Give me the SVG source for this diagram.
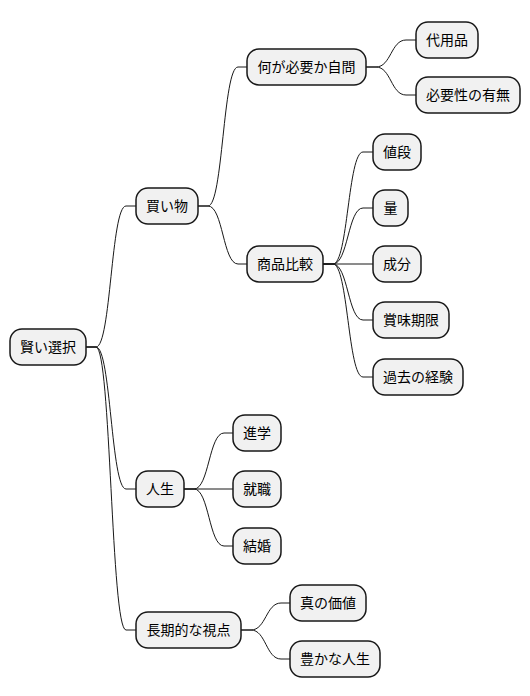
<svg xmlns="http://www.w3.org/2000/svg" width="530" height="696" viewBox="0 0 530 696">
<style>
.n rect{fill:#F1F1F1;stroke:#181818;stroke-width:1.5}
.n text{font-family:"Noto Sans CJK JP","Noto Sans",sans-serif;font-size:14px;fill:#000;text-anchor:middle}
.c path{fill:none;stroke:#181818;stroke-width:1}
</style>
<rect width="530" height="696" fill="#FFFFFF"/>
<g class="c">
<path d="M86 347 h10 C111 347 111 206 126 206 h10"/>
<path d="M86 347 h10 C111 347 111 489 126 489 h10"/>
<path d="M86 347 h10 C111 347 111 630 126 630 h10"/>
<path d="M198 206 h10 C223 206 223 67 238 67 h9"/>
<path d="M198 206 h10 C223 206 223 264 238 264 h9"/>
<path d="M366 67 h10 C391 67 391 40 406 40 h10"/>
<path d="M366 67 h10 C391 67 391 95 406 95 h10"/>
<path d="M323 264 h10 C348 264 348 152 363 152 h10"/>
<path d="M323 264 h10 C348 264 348 208 363 208 h10"/>
<path d="M323 264 h50"/>
<path d="M323 264 h10 C348 264 348 320 363 320 h10"/>
<path d="M323 264 h10 C348 264 348 377 363 377 h10"/>
<path d="M184 489 h10 C209 489 209 433 224 433 h9"/>
<path d="M184 489 h49"/>
<path d="M184 489 h10 C209 489 209 546 224 546 h9"/>
<path d="M241 630 h10 C266 630 266 603 281 603 h9"/>
<path d="M241 630 h10 C266 630 266 659 281 659 h9"/>
</g>
<g id="n-root" class="n"><rect x="10" y="329" width="76" height="36" rx="12"/><text x="48" y="352">賢い選択</text></g>
<g id="n-kaimono" class="n"><rect x="136" y="188" width="62" height="36" rx="12"/><text x="167" y="211">買い物</text></g>
<g id="n-jimon" class="n"><rect x="247" y="49" width="119" height="36" rx="12"/><text x="306.5" y="72">何が必要か自問</text></g>
<g id="n-daiyo" class="n"><rect x="416" y="22" width="62" height="36" rx="12"/><text x="447" y="45">代用品</text></g>
<g id="n-hitsuyo" class="n"><rect x="416" y="77" width="104" height="36" rx="12"/><text x="468" y="100">必要性の有無</text></g>
<g id="n-hikaku" class="n"><rect x="247" y="246" width="76" height="36" rx="12"/><text x="285" y="269">商品比較</text></g>
<g id="n-nedan" class="n"><rect x="373" y="134" width="48" height="36" rx="12"/><text x="397" y="157">値段</text></g>
<g id="n-ryo" class="n"><rect x="373" y="190" width="35" height="36" rx="12"/><text x="390.5" y="213">量</text></g>
<g id="n-seibun" class="n"><rect x="373" y="246" width="48" height="36" rx="12"/><text x="397" y="269">成分</text></g>
<g id="n-kigen" class="n"><rect x="373" y="302" width="76" height="36" rx="12"/><text x="411" y="325">賞味期限</text></g>
<g id="n-keiken" class="n"><rect x="373" y="359" width="90" height="36" rx="12"/><text x="418" y="382">過去の経験</text></g>
<g id="n-jinsei" class="n"><rect x="136" y="471" width="48" height="36" rx="12"/><text x="160" y="494">人生</text></g>
<g id="n-shingaku" class="n"><rect x="233" y="415" width="48" height="36" rx="12"/><text x="257" y="438">進学</text></g>
<g id="n-shushoku" class="n"><rect x="233" y="471" width="48" height="36" rx="12"/><text x="257" y="494">就職</text></g>
<g id="n-kekkon" class="n"><rect x="233" y="528" width="48" height="36" rx="12"/><text x="257" y="551">結婚</text></g>
<g id="n-choki" class="n"><rect x="136" y="612" width="105" height="36" rx="12"/><text x="188.5" y="635">長期的な視点</text></g>
<g id="n-kachi" class="n"><rect x="290" y="585" width="76" height="36" rx="12"/><text x="328" y="608">真の価値</text></g>
<g id="n-yutaka" class="n"><rect x="290" y="641" width="90" height="36" rx="12"/><text x="335" y="664">豊かな人生</text></g>
</svg>
